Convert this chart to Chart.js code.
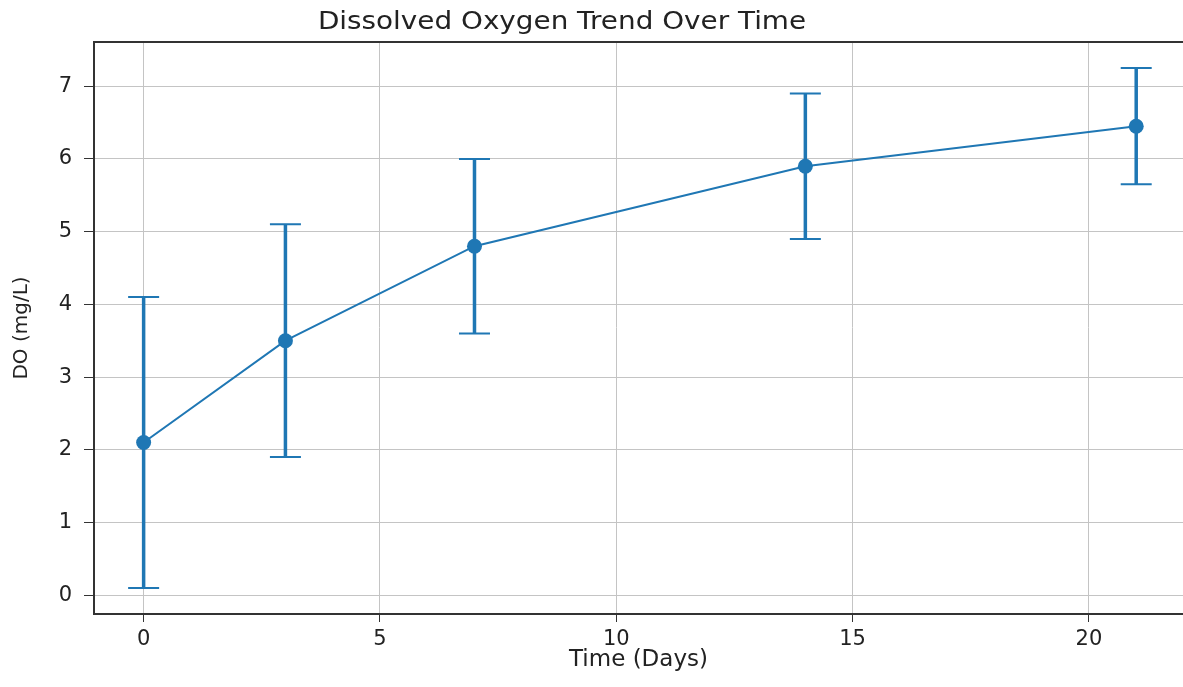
<!DOCTYPE html>
<html>
<head>
<meta charset="utf-8">
<script src="https://cdn.jsdelivr.net/npm/chart.js@4.4.1/dist/chart.umd.min.js"></script>
<style>
  html, body { margin: 0; padding: 0; background: #fff; overflow: hidden; }
  #wrap { width: 1183px; height: 687px; }
</style>
</head>
<body>
<div id="wrap"><canvas id="chartCanvas" width="1183" height="687"></canvas></div>
<script>
// ---------- Data ----------
const days = [0, 3, 7, 14, 21];
const doValues = [2.1, 3.5, 4.8, 5.9, 6.45];
const doErrors = [2.0, 1.6, 1.2, 1.0, 0.8];
const xTicks = [0, 5, 10, 15, 20];
const yTicks = [0, 1, 2, 3, 4, 5, 6, 7];

const titleText = "Dissolved Oxygen Trend Over Time";
const xTitle = "Time (Days)";
const yTitle = "DO (mg/L)";

const BLUE = "#1f77b4";
const FONT = "DejaVu Sans";

// ---------- Error bars (drawn through the chart scales) ----------
const errorBarPlugin = {
    id: "errorBars",
    beforeDatasetsDraw(chart) {
        const ctx = chart.ctx;
        const xs = chart.scales.x;
        const ys = chart.scales.y;
        ctx.save();
        ctx.strokeStyle = BLUE;
        for (let i = 0; i < days.length; i++) {
            const px = xs.getPixelForValue(days[i]);
            const top = ys.getPixelForValue(doValues[i] + doErrors[i]);
            const bot = ys.getPixelForValue(doValues[i] - doErrors[i]);
            ctx.lineWidth = 3.5;
            ctx.beginPath();
            ctx.moveTo(px, top);
            ctx.lineTo(px, bot);
            ctx.stroke();
            // caps
            ctx.lineWidth = 2;
            ctx.beginPath();
            ctx.moveTo(px - 15.5, top);
            ctx.lineTo(px + 15.5, top);
            ctx.moveTo(px - 15.5, bot);
            ctx.lineTo(px + 15.5, bot);
            ctx.stroke();
        }
        ctx.restore();
    }
};

// ---------- Top frame line + title ----------
// (the source image is cropped just before the right spine)
const framePlugin = {
    id: "frame",
    afterDraw(chart) {
        const ctx = chart.ctx;
        const a = chart.chartArea;
        ctx.save();
        ctx.strokeStyle = "#333";
        ctx.lineWidth = 2;
        ctx.beginPath();
        ctx.moveTo(a.left - 1, a.top);
        ctx.lineTo(chart.width, a.top);
        ctx.stroke();
        // title, slightly widened like the source image
        ctx.fillStyle = "#222";
        ctx.font = "24px '" + FONT + "'";
        ctx.textAlign = "center";
        ctx.textBaseline = "alphabetic";
        ctx.translate(562, 28.5);
        ctx.scale(1.16, 1);
        ctx.fillText(titleText, 0, 0);
        ctx.restore();
    }
};

const ctx = document.getElementById("chartCanvas").getContext("2d");

new Chart(ctx, {
    type: "scatter",
    data: {
        datasets: [{
            label: "DO",
            data: days.map((d, i) => ({ x: d, y: doValues[i] })),
            showLine: true,
            borderColor: BLUE,
            backgroundColor: BLUE,
            borderWidth: 2,
            pointRadius: 7.5,
            pointBackgroundColor: BLUE,
            pointBorderWidth: 0
        }]
    },
    options: {
        responsive: false,
        animation: false,
        layout: { autoPadding: false, padding: { top: 42, left: 0, right: 0, bottom: 0 } },
        plugins: {
            legend: { display: false },
            tooltip: { enabled: false },
            title: { display: false }
        },
        scales: {
            x: {
                type: "linear",
                min: -1.05,
                max: 21.99,
                afterBuildTicks: s => { s.ticks = xTicks.map(v => ({ value: v })); },
                afterFit: s => { s.height = 73; s.paddingRight = 0; },
                grid: { color: "#c4c4c4", lineWidth: 1, tickColor: "#333", tickLength: 8, drawTicks: true },
                border: { color: "#333", width: 2 },
                ticks: { color: "#222", padding: 5, font: { family: FONT, size: 21 }, maxRotation: 0 },
                title: {
                    display: true, text: xTitle, color: "#222",
                    font: { family: FONT, size: 23 }, padding: { top: 0, bottom: 13 }
                }
            },
            y: {
                type: "linear",
                min: -0.2575,
                max: 7.6075,
                afterBuildTicks: s => { s.ticks = yTicks.map(v => ({ value: v })); },
                afterFit: s => { s.width = 94; },
                grid: { color: "#c4c4c4", lineWidth: 1, tickColor: "#333", tickLength: 10, drawTicks: true },
                border: { color: "#333", width: 2 },
                ticks: { color: "#222", padding: 12, font: { family: FONT, size: 21 } },
                title: {
                    display: true, text: yTitle, color: "#222",
                    font: { family: FONT, size: 20 }, padding: { top: 10, bottom: 0 }
                }
            }
        }
    },
    plugins: [errorBarPlugin, framePlugin]
});
</script>
</body>
</html>
